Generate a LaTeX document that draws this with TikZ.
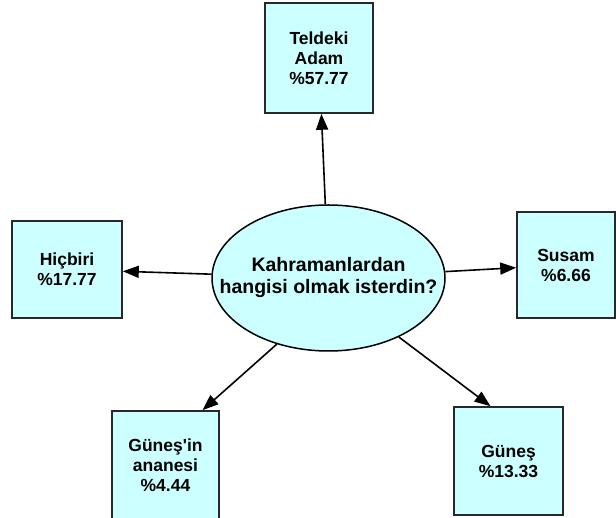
\documentclass[tikz,border=0pt]{standalone}
\usepackage{fontspec}
\setmainfont{Liberation Sans}
\usepackage{tikz}
\usetikzlibrary{arrows.meta,shapes.geometric}

\definecolor{kutu}{RGB}{204,255,255}
\definecolor{kenar}{RGB}{40,40,40}

\begin{document}
\begin{tikzpicture}[x=1pt,y=1pt,
	secenek/.style={shape=rectangle,draw=kenar,line width=1.6pt,fill=kutu,inner sep=0pt,align=center,font=\fontsize{17.5}{20}\selectfont\bfseries},
	oklar/.style={-{Triangle[length=16pt,width=12pt]},line width=1.6pt}]
	\useasboundingbox (0,0) rectangle (616,517);

	\node[shape=ellipse,draw=black,line width=1.5pt,fill=kutu,inner sep=0pt,minimum width=233,minimum height=146,
		label={[align=center,font=\fontsize{19.5}{22}\selectfont\bfseries]center:Kahramanlardan\\hangisi olmak isterdin?}] (soru) at (328.5, 239) {};

	\node[secenek,minimum width=108,minimum height=110] (teldeki) at (319, 459)   {Teldeki\\Adam\\\%57.77};
	\node[secenek,minimum width=110,minimum height=97]  (hicbiri) at (67, 247.5)  {Hiçbiri\\\%17.77};
	\node[secenek,minimum width=98,minimum height=106]  (susam)   at (566, 252)   {Susam\\\%6.66};
	\node[secenek,minimum width=107,minimum height=108] (anne)    at (165.5, 52)  {Güneş\textquotesingle in\\ananesi\\\%4.44};
	\node[secenek,minimum width=109,minimum height=108] (gunes)   at (508.5, 56)  {Güneş\\\%13.33};

	\path[oklar] (soru) edge (teldeki);
	\path[oklar] (soru) edge (hicbiri);
	\path[oklar] (soru) edge (susam);
	\path[oklar] (soru.232) edge ([xshift=37]anne.north);
	\path[oklar] (soru.320) edge ([xshift=-18]gunes.north);

\end{tikzpicture}
\end{document}
